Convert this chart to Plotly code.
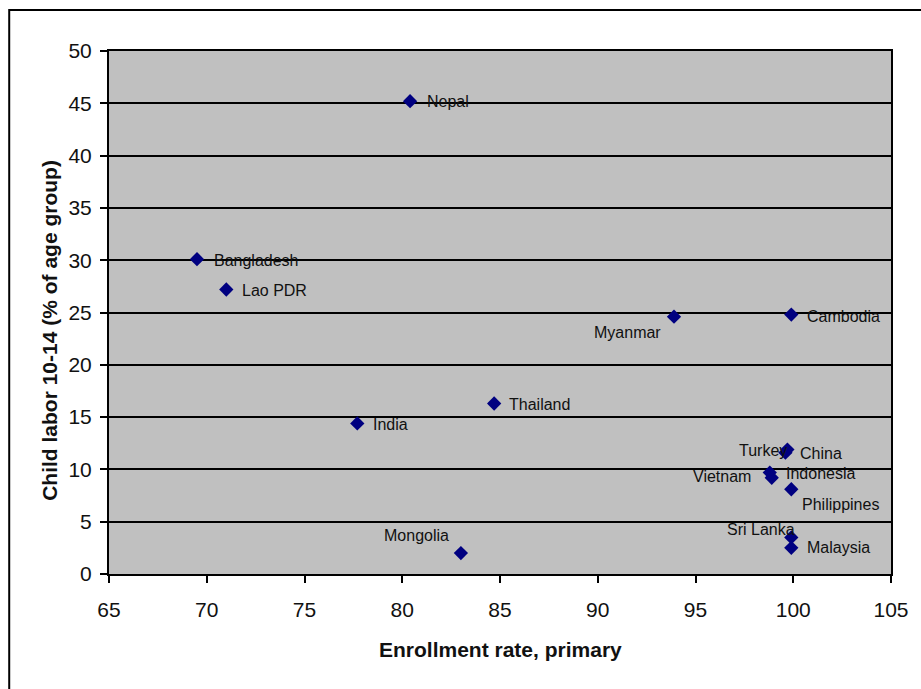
import plotly.graph_objects as go

# Primary enrollment vs. child labour, Asian economies
countries = ["Nepal", "Bangladesh", "Lao PDR", "India", "Thailand", "Mongolia",
             "Myanmar", "Cambodia", "Turkey", "China", "Vietnam", "Indonesia",
             "Philippines", "Sri Lanka", "Malaysia"]
enrollment = [80.4, 69.5, 71.0, 77.7, 84.7, 83.0,
              93.9, 99.9, 99.6, 99.7, 98.8, 98.9,
              99.9, 99.9, 99.9]
child_labor = [45.2, 30.1, 27.2, 14.4, 16.3, 2.0,
               24.6, 24.8, 11.6, 11.9, 9.7, 9.2,
               8.1, 3.5, 2.5]

# label placement per country: (xanchor, xshift, yshift)
label_pos = {
    "Nepal": ("left", 15, 0),
    "Bangladesh": ("left", 15, -1),
    "Lao PDR": ("left", 14, -1),
    "India": ("left", 14, -1),
    "Thailand": ("left", 13, -1),
    "Mongolia": ("right", -10, 18),
    "Myanmar": ("right", -11, -16),
    "Cambodia": ("left", 14, -2),
    "Turkey": ("right", 4, 2),
    "China": ("left", 11, -4),
    "Vietnam": ("right", -17, -4),
    "Indonesia": ("left", 12, 4),
    "Philippines": ("left", 9, -15),
    "Sri Lanka": ("right", 6, 8),
    "Malaysia": ("left", 14, 0),
}

FONT = "Liberation Sans, Arial, sans-serif"

fig = go.Figure()
fig.add_trace(go.Scatter(
    x=enrollment, y=child_labor, mode="markers",
    marker=dict(symbol="diamond", size=11, color="#000080",
                line=dict(width=0)),
    hovertext=countries, showlegend=False,
))

annotations = []
for name, xv, yv in zip(countries, enrollment, child_labor):
    xa, xs, ys = label_pos[name]
    annotations.append(dict(
        x=xv, y=yv, xref="x", yref="y", text=name, showarrow=False,
        xanchor=xa, yanchor="middle", xshift=xs, yshift=ys,
        font=dict(family=FONT, size=16, color="#111111"),
    ))

# axis titles
annotations.append(dict(
    x=0.5, y=-0.145, xref="paper", yref="paper", yanchor="middle",
    text="<b>Enrollment rate, primary</b>", showarrow=False,
    font=dict(family=FONT, size=21, color="#111111"),
))
annotations.append(dict(
    x=-0.077, y=0.4665, xref="paper", yref="paper", xanchor="center",
    yanchor="middle",
    text="<b>Child labor 10-14 (% of age group)</b>", showarrow=False,
    textangle=-90,
    font=dict(family=FONT, size=21, color="#111111"),
))

fig.update_layout(
    width=921, height=689,
    margin=dict(l=109, r=28, t=51, b=115),
    paper_bgcolor="white",
    plot_bgcolor="#C0C0C0",
    annotations=annotations,
    shapes=[dict(
        type="rect", xref="paper", yref="paper",
        x0=-0.1276, x1=1.06, y0=-0.26, y1=1.0784,
        line=dict(color="black", width=2), layer="below",
    )],
)
fig.update_xaxes(
    range=[65, 105], dtick=5, tick0=65,
    showgrid=False, zeroline=False,
    showline=True, linecolor="black", linewidth=2, mirror=True,
    ticks="outside", ticklen=7, tickwidth=2, tickcolor="black",
    tickfont=dict(family=FONT, size=21, color="#111111"),
    ticklabelstandoff=9,
)
fig.update_yaxes(
    range=[0, 50], dtick=5, tick0=0,
    showgrid=True, gridcolor="black", gridwidth=2,
    zeroline=False,
    showline=True, linecolor="black", linewidth=2, mirror=True,
    ticks="outside", ticklen=7, tickwidth=2, tickcolor="black",
    tickfont=dict(family=FONT, size=21, color="#111111"),
    ticklabelstandoff=4,
)

fig.write_html("out.html")
